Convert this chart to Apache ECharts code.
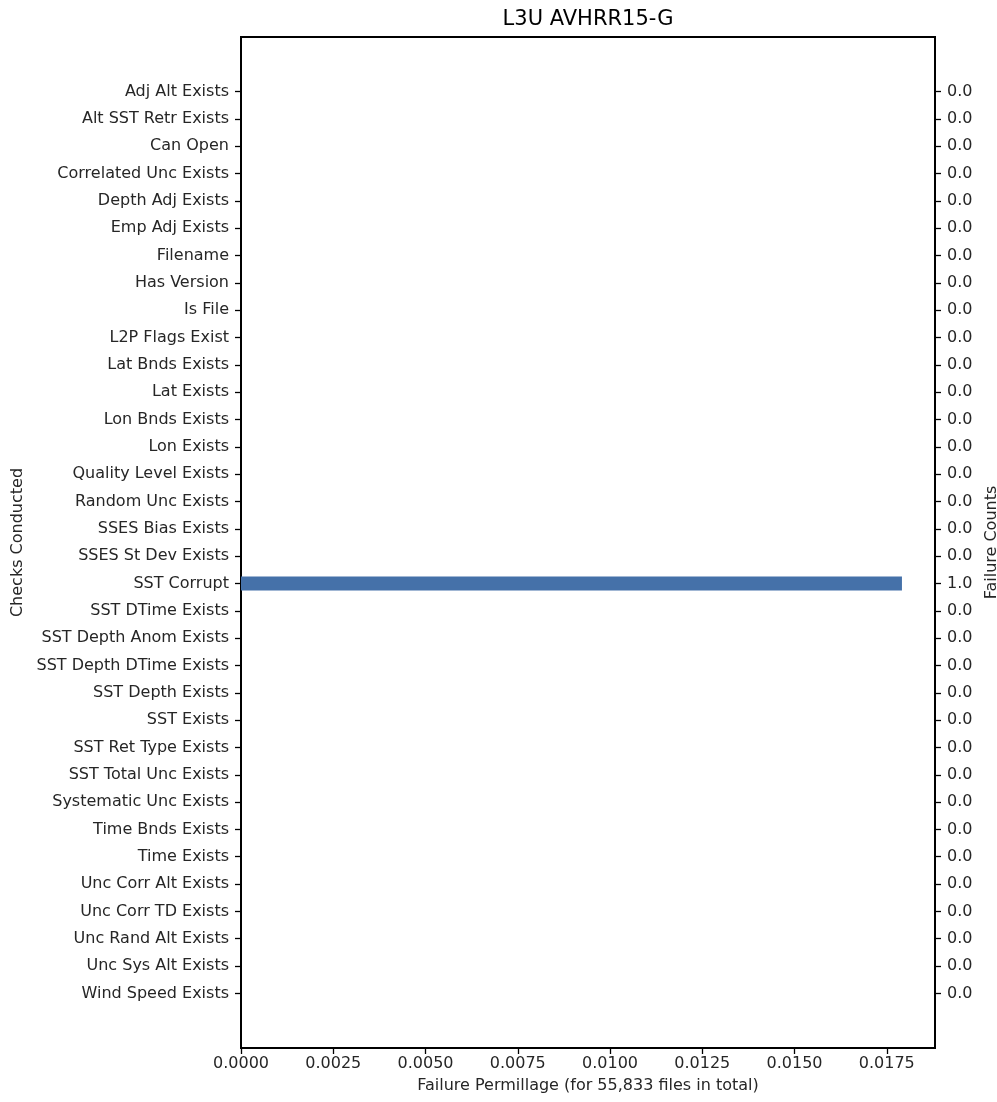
<!DOCTYPE html>
<html>
<head>
<meta charset="utf-8">
<script src="https://cdn.jsdelivr.net/npm/echarts@6/dist/echarts.min.js"></script>
<style>
  html, body { margin: 0; padding: 0; background: #fff; }
  #main { width: 997px; height: 1102px; }
</style>
</head>
<body>
<div id="main"></div>
<script>
var checks = [
  'Adj Alt Exists', 'Alt SST Retr Exists', 'Can Open', 'Correlated Unc Exists',
  'Depth Adj Exists', 'Emp Adj Exists', 'Filename', 'Has Version', 'Is File',
  'L2P Flags Exist', 'Lat Bnds Exists', 'Lat Exists', 'Lon Bnds Exists', 'Lon Exists',
  'Quality Level Exists', 'Random Unc Exists', 'SSES Bias Exists', 'SSES St Dev Exists',
  'SST Corrupt', 'SST DTime Exists', 'SST Depth Anom Exists', 'SST Depth DTime Exists',
  'SST Depth Exists', 'SST Exists', 'SST Ret Type Exists', 'SST Total Unc Exists',
  'Systematic Unc Exists', 'Time Bnds Exists', 'Time Exists', 'Unc Corr Alt Exists',
  'Unc Corr TD Exists', 'Unc Rand Alt Exists', 'Unc Sys Alt Exists', 'Wind Speed Exists'
];
var failureCounts = [
  0, 0, 0, 0, 0, 0, 0, 0, 0, 0, 0, 0, 0, 0, 0, 0, 0, 0,
  1, 0, 0, 0, 0, 0, 0, 0, 0, 0, 0, 0, 0, 0, 0, 0
];
var totalFiles = 55833;
var xTicks = [0, 0.0025, 0.005, 0.0075, 0.01, 0.0125, 0.015, 0.0175];

// failure permillage
var permillage = failureCounts.map(function (c) { return c / totalFiles * 1000; });

// two empty slots at each end give the matplotlib-style margins
var pad = ['', ''];
var yCats = pad.concat(checks, pad);
var yCounts = pad.concat(failureCounts.map(function (c) { return c.toFixed(1); }), pad);
var barData = [null, null].concat(permillage, [null, null]);

var maxVal = Math.max.apply(null, permillage) * 1.05;
var font = 'DejaVu Sans';
var txt = '#262626';

var chart = echarts.init(document.getElementById('main'));
var option = {
  animation: false,
  textStyle: { fontFamily: font },
  title: {
    text: 'L3U AVHRR15-G',
    left: 583, top: 4, textAlign: 'center',
    textStyle: { fontFamily: font, fontSize: 21, fontWeight: 'normal', color: '#000' }
  },
  grid: {
    left: 241, right: 62, top: 37, bottom: 54,
    containLabel: false, outerBoundsMode: 'none',
    show: true, borderColor: '#000', borderWidth: 2, backgroundColor: '#fff'
  },
  xAxis: {
    type: 'value', min: 0, max: maxVal,
    name: 'Failure Permillage (for 55,833 files in total)',
    nameLocation: 'middle', nameGap: 30,
    nameTextStyle: { fontFamily: font, fontSize: 16, color: txt },
    splitLine: { show: false },
    axisLine: { show: false },
    axisTick: { show: true, customValues: xTicks, length: 6, lineStyle: { color: '#000', width: 1.3 } },
    axisLabel: {
      customValues: xTicks, margin: 8, color: txt, fontSize: 16, fontFamily: font,
      formatter: function (v) { return v.toFixed(4); }
    }
  },
  yAxis: [
    {
      type: 'category', data: yCats, inverse: true, boundaryGap: false,
      name: 'Checks Conducted', nameLocation: 'middle', nameGap: 212, nameRotate: 90,
      nameTextStyle: { fontFamily: font, fontSize: 16, color: txt },
      axisLine: { show: false },
      axisTick: {
        show: true, length: 6, lineStyle: { color: '#000', width: 1.3 },
        interval: function (i, v) { return v !== ''; }
      },
      axisLabel: { interval: 0, margin: 12, color: txt, fontSize: 16, fontFamily: font },
      splitLine: { show: false }
    },
    {
      type: 'category', data: yCounts, inverse: true, boundaryGap: false, position: 'right',
      name: 'Failure Counts', nameLocation: 'middle', nameGap: 44, nameRotate: 90,
      nameTextStyle: { fontFamily: font, fontSize: 16, color: txt, verticalAlign: 'top' },
      axisLine: { show: false },
      axisTick: {
        show: true, length: 6, lineStyle: { color: '#000', width: 1.3 },
        interval: function (i, v) { return v !== ''; }
      },
      axisLabel: { interval: 0, margin: 12, color: txt, fontSize: 16, fontFamily: font },
      splitLine: { show: false }
    }
  ],
  series: [{
    type: 'bar',
    yAxisIndex: 0,
    data: barData,
    barWidth: 14,
    itemStyle: { color: '#4571a9' }
  }]
};
chart.setOption(option);
</script>
</body>
</html>
